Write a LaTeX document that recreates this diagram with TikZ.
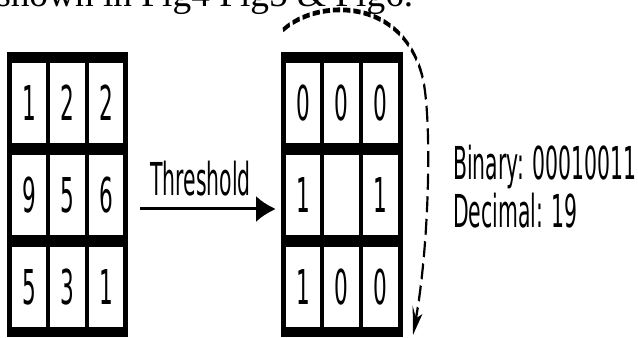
\documentclass[tikz,border=0pt]{standalone}
\usepackage{fontspec}
\setmainfont{Liberation Serif}
\newfontfamily\dejavu{DejaVu Sans}
\usetikzlibrary{arrows.meta}

\tikzset{
  frame/.style={fill=black, inner sep=0pt},
  cell/.style={fill=white, inner sep=0pt, minimum width=57pt, minimum height=60.4pt,
    font=\dejavu\fontsize{36}{36}\selectfont},
  label/.style={anchor=base west, inner sep=0pt, font=\dejavu\fontsize{34}{34}\selectfont},
  thrarrow/.style={line width=2.25pt, -{Latex[length=33pt,width=19pt]}},
  readarrow/.style={line width=3.6pt, dash pattern=on 12pt off 5pt,
    -{Stealth[length=20pt,width=17pt]}},
}

\begin{document}
\begin{tikzpicture}[x=0.75pt,y=-0.75pt]
\useasboundingbox (0,0) rectangle (638,338);
\clip (0,0) rectangle (638,338);

% caption line running over the top edge
\node[anchor=base west, inner sep=0pt, font=\fontsize{28}{28}\selectfont] (caption)
  at (-4,7) {shown in Fig4 Fig5 \& Fig6.};

% the figure itself is set horizontally condensed
\begin{scope}[x=1.66667pt, y=-0.75pt, transform canvas={xscale=0.45}]

  % input neighbourhood
  \node[frame, minimum width=201.7pt, minimum height=213.75pt] (Lgrid) at (67.5,194.5) {};
  \node[cell] (L11) at (29,103)   {1};
  \node[cell] (L12) at (67.5,103) {2};
  \node[cell] (L13) at (106,103)  {2};
  \node[cell] (L21) at (29,195)   {9};
  \node[cell] (L22) at (67.5,195) {5};
  \node[cell] (L23) at (106,195)  {6};
  \node[cell] (L31) at (29,287)   {5};
  \node[cell] (L32) at (67.5,287) {3};
  \node[cell] (L33) at (106,287)  {1};

  % thresholded neighbourhood
  \node[frame, minimum width=203.3pt, minimum height=213.75pt] (Rgrid) at (342,194.5) {};
  \node[cell] (R11) at (303,103)   {0};
  \node[cell] (R12) at (341.5,103) {0};
  \node[cell] (R13) at (380.5,103) {0};
  \node[cell] (R21) at (303,195)   {1};
  \node[cell] (R22) at (341.5,195) {};
  \node[cell] (R23) at (380.5,195) {1};
  \node[cell] (R31) at (303,287)   {1};
  \node[cell] (R32) at (341.5,287) {0};
  \node[cell] (R33) at (380.5,287) {0};

  % threshold step
  \coordinate (thrA) at (140,209);
  \coordinate (thrB) at (276,209);
  \draw[thrarrow] (thrA) -- (thrB);
  \node[label] (thr) at (150,196) {Threshold};

  % clockwise read-out of the bits
  \coordinate (readA) at (283,30);
  \coordinate (readM) at (422,75);
  \coordinate (readB) at (413,335);
  \draw[readarrow] (readA) .. controls (315,0) and (400,-5) .. (readM)
    .. controls (432,112) and (430,240) .. (readB);

  % resulting code
  \node[label] (bin) at (453,180) {Binary: 00010011};
  \node[label] (dec) at (453,228) {Decimal: 19};
\end{scope}
\end{tikzpicture}
\end{document}
